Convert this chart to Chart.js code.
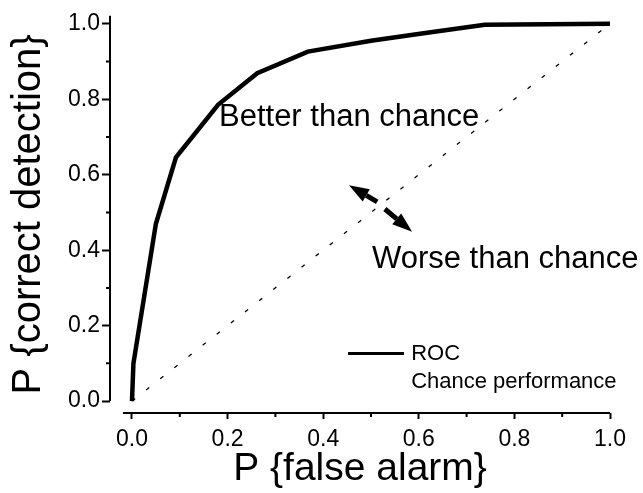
<!DOCTYPE html>
<html>
<head>
<meta charset="utf-8">
<script src="https://cdn.jsdelivr.net/npm/chart.js@4"></script>
<style>
  html, body { margin: 0; padding: 0; background: #fff; }
  #wrap { width: 643px; height: 493px; }
</style>
</head>
<body>
<div id="wrap"><canvas id="myChart"></canvas></div>
<script>
// ROC curve
const rocX = [0, 0.003, 0.05, 0.092, 0.18, 0.262, 0.368, 0.5, 0.61, 0.738, 1.0];
const rocY = [0, 0.10, 0.47, 0.646, 0.785, 0.869, 0.926, 0.955, 0.975, 0.997, 1.0];
// chance diagonal
const chanceX = [0, 1];
const chanceY = [0, 1];

const xTicks = [0, 0.2, 0.4, 0.6, 0.8, 1.0];
const yTicks = [0, 0.2, 0.4, 0.6, 0.8, 1.0];
const minorTicks = [0.1, 0.3, 0.5, 0.7, 0.9];
const seriesLabels = ['ROC', 'Chance performance'];
const noteLabels = ['Better than chance', 'Worse than chance'];

const FONT = '"Liberation Sans", Arial, Helvetica, sans-serif';

function toPoints(xs, ys) {
    return xs.map((x, i) => ({ x: x, y: ys[i] }));
}

function drawArrow(ctx, x0, y0, x1, y1) {
    const ang = Math.atan2(y1 - y0, x1 - x0);
    const head = 20, half = 7;
    const bx = x1 - head * Math.cos(ang), by = y1 - head * Math.sin(ang);
    ctx.lineWidth = 5;
    ctx.beginPath();
    ctx.moveTo(x0, y0);
    ctx.lineTo(bx, by);
    ctx.stroke();
    ctx.beginPath();
    ctx.moveTo(x1, y1);
    ctx.lineTo(bx + half * Math.sin(ang), by - half * Math.cos(ang));
    ctx.lineTo(bx - half * Math.sin(ang), by + half * Math.cos(ang));
    ctx.closePath();
    ctx.fill();
}

// axis lines, minor ticks, notes, arrows and the legend
const extrasPlugin = {
    id: 'extras',
    afterDraw(chart) {
        const { ctx, chartArea, scales: { x, y } } = chart;
        ctx.save();
        ctx.strokeStyle = '#000';
        ctx.fillStyle = '#000';
        ctx.lineWidth = 2;
        ctx.beginPath();
        ctx.moveTo(chartArea.left, chartArea.top);
        ctx.lineTo(chartArea.left, y.getPixelForValue(0));
        ctx.moveTo(x.getPixelForValue(0) - 9, chartArea.bottom);
        ctx.lineTo(x.getPixelForValue(1), chartArea.bottom);
        minorTicks.forEach(v => {
            const px = x.getPixelForValue(v);
            ctx.moveTo(px, chartArea.bottom);
            ctx.lineTo(px, chartArea.bottom + 4);
            const py = y.getPixelForValue(v);
            ctx.moveTo(chartArea.left, py);
            ctx.lineTo(chartArea.left - 4, py);
        });
        ctx.stroke();

        // notes
        ctx.font = '31px ' + FONT;
        ctx.textBaseline = 'alphabetic';
        ctx.textAlign = 'left';
        ctx.fillText(noteLabels[0], x.getPixelForValue(0.182), y.getPixelForValue(0.73));
        ctx.fillText(noteLabels[1], x.getPixelForValue(0.502), y.getPixelForValue(0.354));

        // double arrow across the diagonal
        drawArrow(ctx, x.getPixelForValue(0.513), y.getPixelForValue(0.528),
                  x.getPixelForValue(0.454), y.getPixelForValue(0.572));
        drawArrow(ctx, x.getPixelForValue(0.529), y.getPixelForValue(0.509),
                  x.getPixelForValue(0.586), y.getPixelForValue(0.449));

        // legend
        const ly = y.getPixelForValue(0.126);
        ctx.lineWidth = 3;
        ctx.beginPath();
        ctx.moveTo(x.getPixelForValue(0.452), ly);
        ctx.lineTo(x.getPixelForValue(0.569), ly);
        ctx.stroke();
        ctx.font = '22px ' + FONT;
        ctx.fillText(seriesLabels[0], x.getPixelForValue(0.584), y.getPixelForValue(0.108));
        ctx.fillText(seriesLabels[1], x.getPixelForValue(0.584), y.getPixelForValue(0.034));
        ctx.restore();
    }
};

document.addEventListener('DOMContentLoaded', function () {
    const ctx = document.getElementById('myChart').getContext('2d');

    new Chart(ctx, {
        type: 'line',
        data: {
            datasets: [{
                label: seriesLabels[0],
                data: toPoints(rocX, rocY),
                borderColor: '#000',
                borderWidth: 4.5,
                pointRadius: 0,
                tension: 0,
                clip: false,
                order: 0
            }, {
                label: seriesLabels[1],
                data: toPoints(chanceX, chanceY),
                borderColor: '#000',
                borderWidth: 1.3,
                borderDash: [4, 14],
                pointRadius: 0,
                tension: 0,
                order: 1
            }]
        },
        options: {
            responsive: true,
            maintainAspectRatio: false,
            animation: false,
            layout: { autoPadding: false, padding: { top: 12, right: 33, left: 0, bottom: 0 } },
            plugins: {
                legend: { display: false },
                tooltip: { enabled: false }
            },
            scales: {
                x: {
                    type: 'linear',
                    min: -0.046,
                    max: 1.0,
                    afterBuildTicks: s => { s.ticks = xTicks.map(v => ({ value: v })); },
                    afterFit: s => { s.height = 80; },
                    border: { display: false },
                    grid: { drawOnChartArea: false, drawTicks: true, tickLength: 6, tickWidth: 2, tickColor: '#000' },
                    ticks: {
                        color: '#000', padding: 9.5, maxRotation: 0,
                        font: { family: FONT, size: 23, lineHeight: 1 },
                        callback: v => v.toFixed(1)
                    },
                    title: {
                        display: true, text: 'P {false alarm}', color: '#000',
                        font: { family: FONT, size: 39 }, padding: { top: 0, bottom: 0 }
                    }
                },
                y: {
                    type: 'linear',
                    min: -0.0315,
                    max: 1.021,
                    afterBuildTicks: s => { s.ticks = yTicks.map(v => ({ value: v })); },
                    afterFit: s => { s.width = 110; },
                    border: { display: false },
                    grid: { drawOnChartArea: false, drawTicks: true, tickLength: 8, tickWidth: 2, tickColor: '#000' },
                    ticks: {
                        color: '#000', padding: 2,
                        font: { family: FONT, size: 23 },
                        callback: v => v.toFixed(1)
                    },
                    title: {
                        display: true, text: 'P {correct detection}', color: '#000',
                        font: { family: FONT, size: 40 }, padding: { top: 5, bottom: 0 }
                    }
                }
            }
        },
        plugins: [extrasPlugin]
    });
});
</script>
</body>
</html>
